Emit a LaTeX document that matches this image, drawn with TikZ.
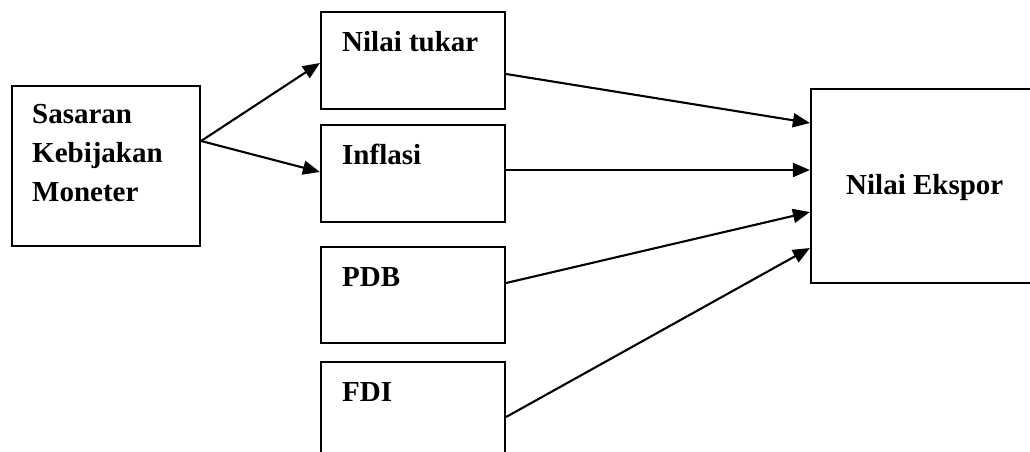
\documentclass[tikz,border=0pt]{standalone}
\usepackage{fontspec}
\setmainfont{Liberation Serif}
\usetikzlibrary{arrows.meta}
\begin{document}
\begin{tikzpicture}[x=1pt,y=-1pt,
  box/.style={draw, line width=2.2pt, rectangle, inner sep=0pt},
  lbl/.style={anchor=base west, inner sep=0pt, font=\fontsize{29}{39}\selectfont\bfseries},
  link/.style={line width=2.1pt, -{Triangle[length=17pt,width=14pt]}}]
  \useasboundingbox (0,0) rectangle (1030,452);
  \clip (0,0) rectangle (1030,452);

  % boxes
  \node[box, minimum width=188pt, minimum height=160pt] (sas) at (106,166) {};
  \node[box, minimum width=184pt, minimum height=97pt] (nt)  at (413,60.5) {};
  \node[box, minimum width=184pt, minimum height=97pt] (inf) at (413,173.5) {};
  \node[box, minimum width=184pt, minimum height=96pt] (pdb) at (413,295) {};
  \node[box, minimum width=184pt, minimum height=97pt] (fdi) at (413,410.5) {};
  \node[box, minimum width=229pt, minimum height=194pt] (ne)  at (925.5,186) {};

  % labels
  \node[lbl, align=left, anchor=north west] (tsas) at (32,104.5) {Sasaran\\Kebijakan\\Moneter};
  \node[lbl] (tnt)  at (342,52)  {Nilai tukar};
  \node[lbl] (tinf) at (342,164) {Inflasi};
  \node[lbl] (tpdb) at (342,286) {PDB};
  \node[lbl] (tfdi) at (342,401) {FDI};
  \node[lbl] (tne)  at (846,194) {Nilai Ekspor};

  % connectors
  \draw[link] ([yshift=25pt]sas.east) -- ([yshift=-2.5pt]nt.west);
  \draw[link] ([yshift=25pt]sas.east) -- ([yshift=1.5pt]inf.west);
  \draw[link] ([yshift=-13.5pt]nt.east) -- ([yshift=63pt]ne.west);
  \draw[link] ([yshift=3.5pt]inf.east) -- ([yshift=16pt]ne.west);
  \draw[link] ([yshift=12pt]pdb.east) -- ([yshift=-26pt]ne.west);
  \draw[link] ([yshift=-6.5pt]fdi.east) -- ([yshift=-62pt]ne.west);
\end{tikzpicture}
\end{document}
